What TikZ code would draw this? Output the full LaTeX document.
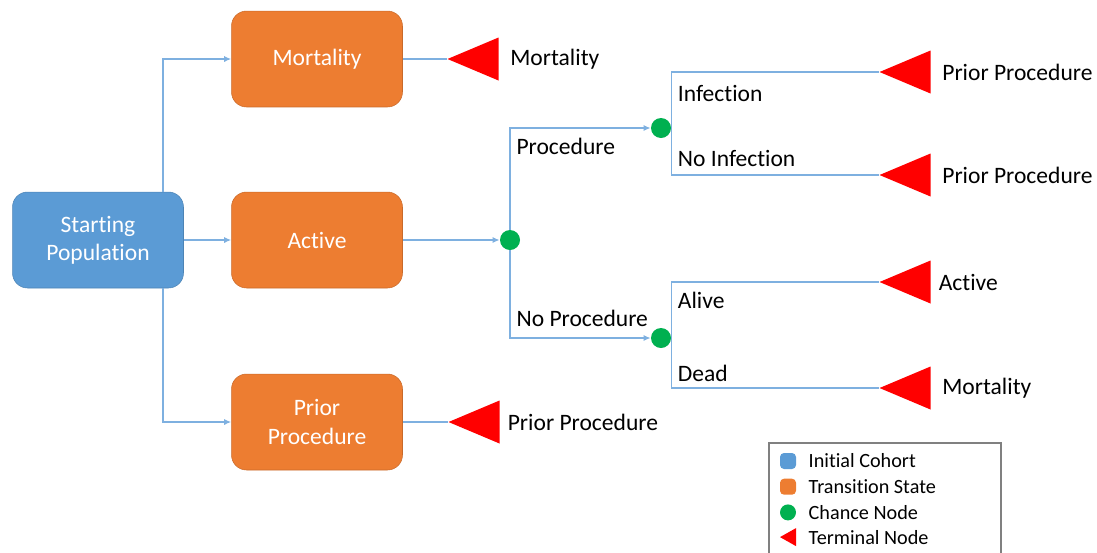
\documentclass[tikz,border=0pt]{standalone}
\usepackage{fontspec}
\setmainfont{Carlito}[Ligatures=NoCommon]
\usetikzlibrary{positioning, arrows.meta, calc}
\definecolor{cohort}{HTML}{5B9BD5}
\definecolor{trans}{HTML}{ED7D31}
\definecolor{chance}{HTML}{00B050}
\definecolor{link}{HTML}{7EB0E0}

\begin{document}
\begin{tikzpicture}[x=0.02cm, y=-0.02cm,
	state/.style={rectangle, rounded corners=3mm, fill=trans, draw=trans!85!black, line width=0.3pt, text=white, minimum width=34.2mm, minimum height=19.2mm, align=center, font=\fontsize{13.4}{16}\selectfont},
	init/.style={state, fill=cohort, draw=cohort!85!black},
	chnode/.style={circle, fill=chance, minimum size=4mm, inner sep=0pt},
	term/.style={minimum width=10.2mm, minimum height=8.6mm, inner sep=0pt, path picture={\fill[red] (path picture bounding box.west)--(path picture bounding box.north east)--(path picture bounding box.south east)--cycle;}},
	branch/.style={draw=link, line width=0.8pt},
	lbl/.style={font=\fontsize{13.4}{16}\selectfont},
	tlbl/.style={lbl, label distance=3pt},
	key/.style={font=\fontsize{11.5}{13}\selectfont, inner sep=0pt},
	swatch/.style={minimum size=3.2mm, inner sep=0pt, rounded corners=0.8mm},
	>={Latex[length=4pt, width=3.5pt]}
	]
	\useasboundingbox (0,0) rectangle (1097,552);
	
	\node[init] (start) at (98,240) {Starting\\Population};
	\node[state] (mort) at (317,59) {Mortality};
	\node[state] (act) at (317,240) {Active};
	\node[state] (prior) at (317,422) {Prior\\Procedure};
	\coordinate (split) at (163,240);
	
	\draw[branch,->] (start.north -| split) |- (mort);
	\draw[branch,->] (start) -- (act);
	\draw[branch,->] (start.south -| split) |- (prior);
	
	\node[term, label={[tlbl]right:Mortality}] (tmort) at (473,59) {};
	\node[term, label={[lbl, label distance=1pt]right:Prior Procedure}] (tprior) at (474,422) {};
	\draw[branch] (mort) -- (tmort);
	\draw[branch] (prior) -- (tprior);
	
	\node[chnode] (c0) at (510,240) {};
	\node[chnode] (c1) at (661,128) {};
	\node[chnode] (c2) at (661,338) {};
	\draw[branch,->] (act) -- (c0);
	\draw[branch,->] (c0) |- node[lbl, pos=0.5, anchor=north west, yshift=-2pt]{Procedure} (c1);
	\draw[branch,->] (c0) |- node[lbl, pos=0.5, anchor=south west, yshift=3pt]{No Procedure} (c2);
	
	\node[term, label={[tlbl]right:Prior Procedure}] (t1) at (905,72) {};
	\node[term, label={[tlbl]right:Prior Procedure}] (t2) at (905,175) {};
	\node[term, label={[lbl, label distance=1pt]right:Active}] (t3) at (905,282) {};
	\node[term, label={[tlbl]right:Mortality}] (t4) at (905,388) {};
	\draw[branch] (c1.east) |- node[lbl, pos=0.5, anchor=north west, yshift=-4pt]{Infection} (t1);
	\draw[branch] (c1.east) |- node[lbl, pos=0.5, anchor=south west, yshift=1pt]{No Infection} (t2);
	\draw[branch] (c2.east) |- node[lbl, pos=0.5, anchor=north west, yshift=-2pt]{Alive} (t3);
	\draw[branch] (c2.east) |- node[lbl, pos=0.5, anchor=south west]{Dead} (t4);
	
	% legend
	\draw[gray, line width=0.8pt] (769,443) rectangle (1001,570);
	\node[swatch, fill=cohort] (k1) at (788,461) {};
	\node[swatch, fill=trans, below=1.8mm of k1] (k2) {};
	\node[swatch, circle, fill=chance, below=1.8mm of k2] (k3) {};
	\node[term, minimum width=3.2mm, minimum height=3.6mm, below=1.4mm of k3] (k4) {};
	\node[key, right=2.4mm of k1] (l1) {Initial Cohort};
	\node[key, right=2.4mm of k2] (l2) {Transition State};
	\node[key, right=2.4mm of k3] (l3) {Chance Node};
	\node[key, right=2.4mm of k4] (l4) {Terminal Node};
\end{tikzpicture}
\end{document}
